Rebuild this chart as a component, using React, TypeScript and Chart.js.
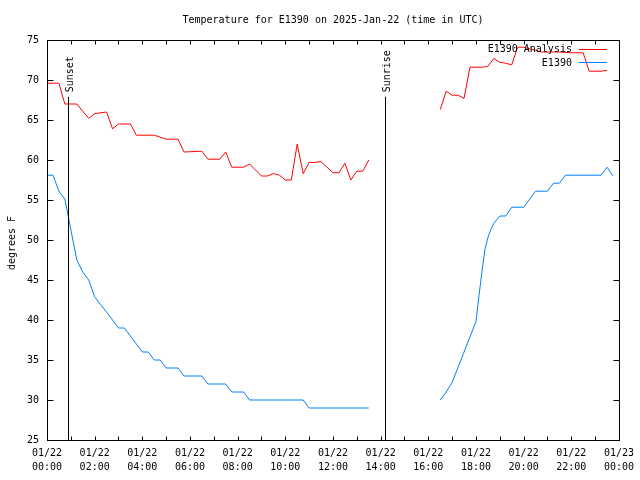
import React, { useEffect, useRef } from "react";
import { Chart, registerables } from "chart.js";

Chart.register(...registerables);

const TITLE = "Temperature for E1390 on 2025-Jan-22 (time in UTC)";
const Y_TITLE = "degrees F";
const SERIES_NAMES = ["E1390 Analysis", "E1390"];
const SERIES_COLORS = ["#ff0000", "#0080ff"];

// hours since 2025-01-22 00:00 UTC ; null = gap in the record
const analysisHours = [
  0, 0.5, 0.75, 1.25, 1.75, 2.0, 2.5, 2.75, 3.0, 3.5, 3.75, 4.5, 5.0, 5.5, 5.75, 6.5,
  6.75, 7.25, 7.5, 7.75, 8.25, 8.5, 9.0, 9.25, 9.5, 9.75, 10.0, 10.25, 10.5, 10.75,
  11.0, 11.25, 11.5, 12.0, 12.25, 12.5, 12.75, 13.0, 13.25, 13.5,
  15.0,
  16.5, 16.75, 17.0, 17.25, 17.5, 17.75, 18.25, 18.5, 18.75, 19.0, 19.25, 19.5, 19.75,
  20.0, 20.25, 20.5, 20.75, 21.5, 22.0, 22.5, 22.75, 23.25, 23.5,
];
const analysisTemps: (number | null)[] = [
  69.6, 69.6, 67.0, 67.0, 65.2, 65.8, 66.0, 63.9, 64.5, 64.5, 63.1, 63.1, 62.6, 62.6, 61.0, 61.1,
  60.1, 60.1, 61.0, 59.1, 59.1, 59.5, 58.0, 58.0, 58.3, 58.1, 57.5, 57.5, 62.0, 58.3,
  59.7, 59.7, 59.8, 58.4, 58.4, 59.6, 57.5, 58.6, 58.6, 60.0,
  null,
  66.3, 68.6, 68.1, 68.1, 67.7, 71.6, 71.6, 71.7, 72.7, 72.2, 72.1, 71.9, 74.1,
  74.1, 73.9, 73.7, 73.5, 73.5, 73.4, 73.4, 71.1, 71.1, 71.2,
];

const obsHours = [
  0, 0.25, 0.5, 0.75, 1.0, 1.25, 1.5, 1.75, 2.0, 2.25, 2.5, 2.75, 3.0, 3.25, 3.5, 3.75,
  4.0, 4.25, 4.5, 4.75, 5.0, 5.5, 5.75, 6.5, 6.75, 7.5, 7.75, 8.25, 8.5, 10.75, 11.0, 13.5,
  15.0,
  16.5, 16.75, 17.0, 17.25, 17.5, 17.75, 18.0, 18.125, 18.25, 18.375, 18.5, 18.625, 18.75,
  19.0, 19.25, 19.5, 20.0, 20.5, 21.0, 21.25, 21.5, 21.75, 23.25, 23.5, 23.75,
];
const obsTemps: (number | null)[] = [
  58.1, 58.1, 56.1, 55.1, 51.3, 47.5, 46.0, 45.0, 42.9, 41.9, 41.0, 40.0, 39.0, 39.0, 38.0, 37.0,
  36.0, 36.0, 35.0, 35.0, 34.0, 34.0, 33.0, 33.0, 32.0, 32.0, 31.0, 31.0, 30.0, 30.0, 29.0, 29.0,
  null,
  30.0, 31.0, 32.2, 34.1, 36.0, 37.9, 39.8, 43.0, 46.0, 48.8, 50.3, 51.3, 52.1,
  53.0, 53.0, 54.1, 54.1, 56.1, 56.1, 57.1, 57.1, 58.1, 58.1, 59.1, 58.0,
];

const sunEventLabels = ["Sunset", "Sunrise"];
const sunEventHours = [0.88, 14.2];
const SUN_LINE_TOP = 67.9;

const xTickHours = [0, 2, 4, 6, 8, 10, 12, 14, 16, 18, 20, 22, 24];
const xTickDates = ["01/22", "01/22", "01/22", "01/22", "01/22", "01/22", "01/22", "01/22", "01/22", "01/22", "01/22", "01/22", "01/23"];
const xTickTimes = ["00:00", "02:00", "04:00", "06:00", "08:00", "10:00", "12:00", "14:00", "16:00", "18:00", "20:00", "22:00", "00:00"];

const FONT = "DejaVu Sans Mono";
const FONT_SIZE = 10;

function toPoints(hours: number[], temps: (number | null)[]) {
  return hours.map((h, i) => ({ x: h, y: temps[i] }));
}

const extrasPlugin = {
  id: "gnuplotExtras",
  afterDatasetsDraw(chart: any) {
    const { ctx, chartArea: a, scales } = chart;
    const x = scales.x;
    const y = scales.y;
    ctx.save();
    ctx.font = `${FONT_SIZE}px "${FONT}"`;
    ctx.fillStyle = "#000";
    ctx.strokeStyle = "#000";
    ctx.lineWidth = 1;

    // sunrise / sunset markers
    const lineTop = y.getPixelForValue(SUN_LINE_TOP);
    sunEventHours.forEach((h, i) => {
      const px = Math.round(x.getPixelForValue(h)) + 0.5;
      ctx.beginPath();
      ctx.moveTo(px, a.bottom);
      ctx.lineTo(px, lineTop);
      ctx.stroke();
      ctx.save();
      ctx.translate(px + 1.5, lineTop - 4.5);
      ctx.rotate(-Math.PI / 2);
      ctx.textAlign = "left";
      ctx.textBaseline = "middle";
      ctx.fillText(sunEventLabels[i], 0, 0);
      ctx.restore();
    });

    // border
    const L = Math.round(a.left) + 0.5;
    const R = Math.round(a.right) + 0.5;
    const T = Math.round(a.top) + 0.5;
    const B = Math.round(a.bottom) + 0.5;
    ctx.strokeRect(L, T, R - L, B - T);

    // inward ticks
    ctx.beginPath();
    for (let v = 25; v <= 75; v += 5) {
      const py = Math.round(y.getPixelForValue(v)) + 0.5;
      ctx.moveTo(L, py);
      ctx.lineTo(L + 6, py);
      ctx.moveTo(R, py);
      ctx.lineTo(R - 6, py);
    }
    for (let h = 0; h <= 24; h += 1) {
      const px = Math.round(x.getPixelForValue(h)) + 0.5;
      const len = 4;
      ctx.moveTo(px, B);
      ctx.lineTo(px, B - len);
      ctx.moveTo(px, T);
      ctx.lineTo(px, T + len);
    }
    ctx.stroke();

    // legend (top right, inside plot)
    ctx.textAlign = "right";
    ctx.textBaseline = "middle";
    const legendTextX = a.right - 47;
    const lineX0 = a.right - 40;
    const lineX1 = a.right - 12;
    SERIES_NAMES.forEach((name, i) => {
      const ly = a.top + 9.5 + i * 13.5;
      ctx.fillStyle = "#000";
      ctx.fillText(name, legendTextX, ly);
      ctx.strokeStyle = SERIES_COLORS[i];
      ctx.beginPath();
      ctx.moveTo(lineX0, Math.round(ly) - 0.5);
      ctx.lineTo(lineX1, Math.round(ly) - 0.5);
      ctx.stroke();
    });

    // title
    ctx.fillStyle = "#000";
    ctx.textAlign = "center";
    ctx.textBaseline = "middle";
    ctx.fillText(TITLE, (a.left + a.right) / 2, 20);

    // y title
    ctx.save();
    ctx.translate(12, (a.top + a.bottom) / 2 + 3);
    ctx.rotate(-Math.PI / 2);
    ctx.fillText(Y_TITLE, 0, 0);
    ctx.restore();

    ctx.restore();
  },
};

export default function App() {
  const canvasRef = useRef<HTMLCanvasElement | null>(null);

  useEffect(() => {
    const canvas = canvasRef.current;
    if (!canvas) return;
    const chart = new Chart(canvas, {
      type: "line",
      data: {
        datasets: [
          {
            label: SERIES_NAMES[0],
            data: toPoints(analysisHours, analysisTemps) as any,
            borderColor: SERIES_COLORS[0],
            backgroundColor: SERIES_COLORS[0],
            borderWidth: 1,
            pointRadius: 0,
            tension: 0,
            spanGaps: false,
          },
          {
            label: SERIES_NAMES[1],
            data: toPoints(obsHours, obsTemps) as any,
            borderColor: SERIES_COLORS[1],
            backgroundColor: SERIES_COLORS[1],
            borderWidth: 1,
            pointRadius: 0,
            tension: 0,
            spanGaps: false,
          },
        ],
      },
      options: {
        animation: false,
        responsive: false,
        events: [],
        layout: { padding: { top: 40, right: 19, left: 0, bottom: 0 } },
        plugins: {
          legend: { display: false },
          title: { display: false },
          tooltip: { enabled: false },
        },
        scales: {
          x: {
            type: "linear",
            min: 0,
            max: 24,
            afterFit: (s: any) => {
              s.height = 40;
            },
            afterBuildTicks: (s: any) => {
              s.ticks = xTickHours.map((v) => ({ value: v }));
            },
            grid: { display: false, drawTicks: false },
            border: { display: false },
            ticks: {
              autoSkip: false,
              maxRotation: 0,
              padding: 6,
              color: "#000",
              font: { family: FONT, size: FONT_SIZE, lineHeight: 1.4 },
              callback: (value: any) => {
                const i = xTickHours.indexOf(Number(value));
                return i >= 0 ? [xTickDates[i], xTickTimes[i]] : "";
              },
            },
          },
          y: {
            type: "linear",
            min: 25,
            max: 75,
            afterFit: (s: any) => {
              s.width = 47;
            },
            grid: { display: false, drawTicks: false },
            border: { display: false },
            ticks: {
              stepSize: 5,
              padding: 8,
              color: "#000",
              font: { family: FONT, size: FONT_SIZE },
            },
          },
        },
      },
      plugins: [extrasPlugin],
    });
    return () => chart.destroy();
  }, []);

  return (
    <div style={{ position: "absolute", left: 0, top: 0, width: 640, height: 480, background: "#fff" }}>
      <canvas ref={canvasRef} width={640} height={480} style={{ display: "block" }} />
    </div>
  );
}
